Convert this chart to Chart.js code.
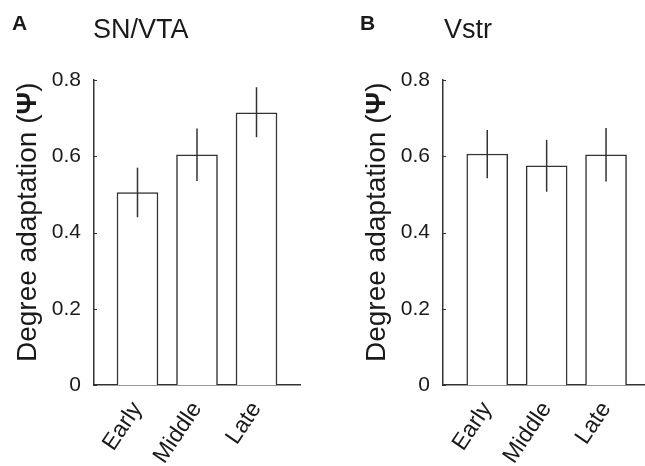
<!DOCTYPE html>
<html lang="en">
<head>
  <meta charset="UTF-8">
  <title>Degree adaptation - SN/VTA and Vstr</title>
  <script src="https://cdn.jsdelivr.net/npm/chart.js"></script>
  <style>
    html, body {
      margin: 0;
      padding: 0;
      background: #fff;
    }
    .panel {
      position: absolute;
      top: 0;
    }
    #chartA { left: 0; }
    #chartB { left: 322px; }
  </style>
</head>
<body>
  <canvas id="chartA" class="panel" width="322" height="466"></canvas>
  <canvas id="chartB" class="panel" width="323" height="466"></canvas>

  <script>
    // data
    var categories = ['Early', 'Middle', 'Late'];
    var yTicks = [0, 0.2, 0.4, 0.6, 0.8];

    var snVtaMean = [0.505, 0.604, 0.714];
    var snVtaLow  = [0.440, 0.535, 0.650];
    var snVtaHigh = [0.570, 0.673, 0.781];

    var vstrMean = [0.606, 0.575, 0.604];
    var vstrLow  = [0.542, 0.507, 0.534];
    var vstrHigh = [0.669, 0.643, 0.674];

    var FONT = '"Liberation Sans", Arial, Helvetica, sans-serif';
    var INK = '#1a1a1a';
    var LINE = '#333';

    // error bars, inward y ticks, y title with bold psi, panel letter + title
    var decorPlugin = {
      id: 'decor',
      afterDatasetsDraw: function(chart, args, opts) {
        var ctx = chart.ctx;
        var xs = chart.scales.x;
        var ys = chart.scales.y;
        ctx.save();
        ctx.strokeStyle = LINE;
        ctx.lineWidth = 1.5;
        for (var i = 0; i < opts.low.length; i++) {
          var x = xs.getPixelForValue(i + 1);
          ctx.beginPath();
          ctx.moveTo(x, ys.getPixelForValue(opts.low[i]));
          ctx.lineTo(x, ys.getPixelForValue(opts.high[i]));
          ctx.stroke();
        }
        // small ticks pointing into the plot
        ctx.lineWidth = 1;
        ys.ticks.forEach(function(t) {
          var y = Math.round(ys.getPixelForValue(t.value)) + 0.5;
          ctx.beginPath();
          ctx.moveTo(chart.chartArea.left, y);
          ctx.lineTo(chart.chartArea.left + 3, y);
          ctx.stroke();
        });
        ctx.restore();
      },
      afterDraw: function(chart, args, opts) {
        var ctx = chart.ctx;
        ctx.save();
        ctx.fillStyle = INK;
        ctx.textBaseline = 'alphabetic';
        ctx.textAlign = 'left';

        ctx.font = 'bold 21px ' + FONT;
        ctx.fillText(opts.letter, opts.letterX, 30);
        ctx.font = '27px ' + FONT;
        ctx.fillText(opts.title, opts.titleX, 38);

        // rotated y title
        ctx.translate(opts.yTitleX, 362);
        ctx.rotate(-Math.PI / 2);
        var part1 = 'Degree adaptation (';
        ctx.font = '28px ' + FONT;
        ctx.fillText(part1, 0, 0);
        var w = ctx.measureText(part1).width;
        ctx.font = 'bold 28px ' + FONT;
        ctx.fillText('\u03A8', w, 0);
        w += ctx.measureText('\u03A8').width;
        ctx.font = '28px ' + FONT;
        ctx.fillText(')', w, 0);
        ctx.restore();
      }
    };

    function makePanel(id, means, low, high, p) {
      var ctx = document.getElementById(id).getContext('2d');
      return new Chart(ctx, {
        type: 'bar',
        data: {
          datasets: [{
            data: means.map(function(v, i) { return { x: i + 1, y: v }; }),
            backgroundColor: '#fff',
            borderColor: LINE,
            borderWidth: 1.5,
            barThickness: 41
          }]
        },
        options: {
          responsive: false,
          animation: false,
          devicePixelRatio: 1,
          layout: {
            padding: { left: 0, right: p.padRight, top: 80, bottom: 0 }
          },
          plugins: {
            legend: { display: false },
            title: { display: false },
            tooltip: { enabled: false },
            decor: {
              low: low,
              high: high,
              letter: p.letter,
              letterX: p.letterX,
              title: p.title,
              titleX: p.titleX,
              yTitleX: p.yTitleX
            }
          },
          scales: {
            x: {
              type: 'linear',
              offset: false,
              min: p.xMin,
              max: p.xMax,
              grid: { display: false, offset: false },
              border: { display: true, color: LINE, width: 1.5 },
              afterBuildTicks: function(scale) {
                scale.ticks = categories.map(function(c, i) { return { value: i + 1 }; });
              },
              afterFit: function(scale) { scale.height = 81; },
              ticks: {
                autoSkip: false,
                minRotation: 56,
                maxRotation: 56,
                padding: 4,
                color: INK,
                font: { family: FONT, size: 23 },
                callback: function(v) { return categories[v - 1]; }
              }
            },
            y: {
              min: 0,
              max: 0.8,
              grid: { display: false },
              border: { display: true, color: LINE, width: 1.5 },
              afterBuildTicks: function(scale) {
                scale.ticks = yTicks.map(function(v) { return { value: v }; });
              },
              afterFit: function(scale) { scale.width = p.yWidth; },
              ticks: {
                padding: 5,
                color: INK,
                font: { family: FONT, size: 21 },
                callback: function(v) { return String(v); }
              }
            }
          }
        },
        plugins: [decorPlugin]
      });
    }

    makePanel('chartA', snVtaMean, snVtaLow, snVtaHigh, {
      letter: 'A', letterX: 12, title: 'SN/VTA', titleX: 93,
      yTitleX: 36, yWidth: 94, padRight: 22, xMin: 0.269, xMax: 3.731
    });

    makePanel('chartB', vstrMean, vstrLow, vstrHigh, {
      letter: 'B', letterX: 38, title: 'Vstr', titleX: 122,
      yTitleX: 63, yWidth: 121, padRight: 0, xMin: 0.255, xMax: 3.656
    });
  </script>
</body>
</html>
